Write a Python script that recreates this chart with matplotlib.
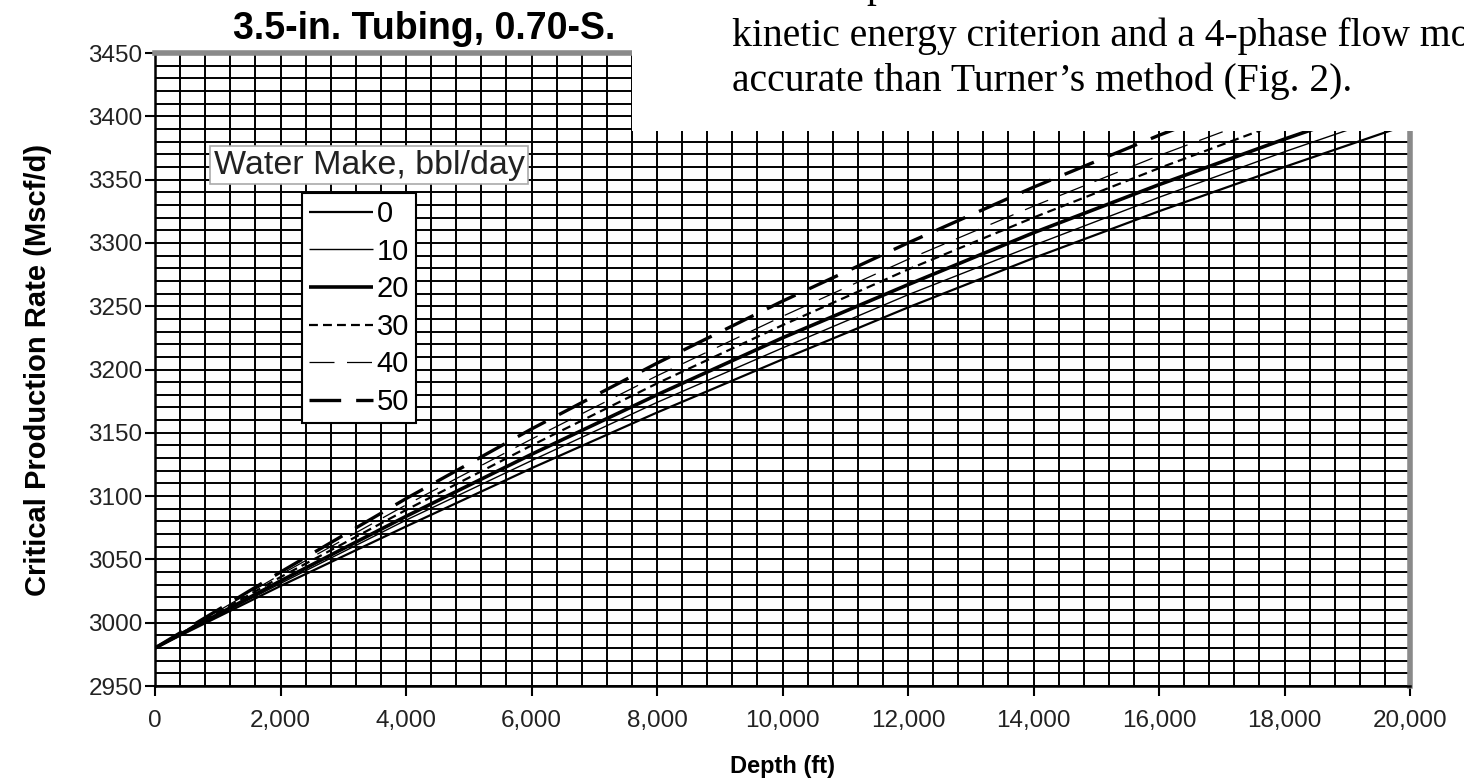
import matplotlib
matplotlib.use('Agg')
import matplotlib.pyplot as plt
import matplotlib.ticker as mticker
from matplotlib.patches import Rectangle

# depth (ft) and critical production rate (Mscf/d) for each water make
depth = [0, 2000, 4000, 6000, 8000, 10000, 12000, 14000, 16000, 18000, 20000]
rate_0 = [2980, 3029, 3076, 3122, 3166, 3208, 3249, 3288, 3325, 3360, 3394]
rate_10 = [2980, 3031, 3081, 3128, 3174, 3217, 3259, 3298, 3336, 3372, 3406]
rate_20 = [2980, 3033, 3084, 3133, 3180, 3225, 3267, 3308, 3346, 3382, 3416]
rate_30 = [2980, 3036, 3089, 3140, 3189, 3235, 3279, 3320, 3359, 3396, 3430]
rate_40 = [2980, 3038, 3093, 3145, 3195, 3242, 3287, 3329, 3369, 3406, 3440]
rate_50 = [2980, 3040, 3098, 3153, 3205, 3254, 3300, 3344, 3385, 3423, 3458]
water_make = ['0', '10', '20', '30', '40', '50']

title = '3.5-in. Tubing, 0.70-S.'
text_lines = ['kinetic energy criterion and a 4-phase flow mo',
              'accurate than Turner\u2019s method (Fig. 2).']

plt.rcParams['font.family'] = ['Liberation Sans', 'DejaVu Sans']

fig = plt.figure(figsize=(14.64, 7.8), dpi=100)
W, H = 1464, 780
ax = fig.add_axes([155 / W, 94 / H, 1255 / W, 633 / H])

styles = [
    dict(lw=1.6, ls='-'),
    dict(lw=1.0, ls='-'),
    dict(lw=2.6, ls='-'),
    dict(lw=1.6, ls=(0, (4, 2.3))),
    dict(lw=0.9, ls=(0, (20, 10))),
    dict(lw=2.4, ls=(0, (9.5, 4.5))),
]
series = [rate_0, rate_10, rate_20, rate_30, rate_40, rate_50]
handles = []
for vals, st, lab in zip(series, styles, water_make):
    h, = ax.plot(depth, vals, color='black', solid_capstyle='butt',
                 dash_capstyle='butt', label=lab, zorder=3, **st)
    handles.append(h)

ax.set_xlim(0, 20000)
ax.set_ylim(2950, 3450)
ax.xaxis.set_major_locator(mticker.MultipleLocator(2000))
ax.xaxis.set_minor_locator(mticker.MultipleLocator(400))
ax.yaxis.set_major_locator(mticker.MultipleLocator(50))
ax.yaxis.set_minor_locator(mticker.MultipleLocator(10))
ax.xaxis.set_major_formatter(mticker.StrMethodFormatter('{x:,.0f}'))
ax.grid(which='both', color='black', lw=1.4)
ax.set_axisbelow(True)
ax.tick_params(which='major', direction='out', length=7, width=1.5,
               labelsize=17.5, colors='black', labelcolor='#222222', pad=2)
ax.tick_params(axis='x', which='major', pad=10)
ax.tick_params(which='minor', length=0)

for s in ['left', 'bottom']:
    ax.spines[s].set_color('black')
    ax.spines[s].set_linewidth(1.8)
for s in ['top', 'right']:
    ax.spines[s].set_color('#8a8a8a')
    ax.spines[s].set_linewidth(4)

ax.set_xlabel('Depth (ft)', fontsize=17, fontweight='bold', labelpad=17)
ax.set_ylabel('Critical Production Rate (Mscf/d)', fontsize=21,
              fontweight='bold', labelpad=26)

leg = ax.legend(handles=handles, loc='upper left', bbox_to_anchor=(0.117, 0.779),
                borderaxespad=0, fontsize=21, handlelength=2.2, handletextpad=0.12,
                labelspacing=0.33, borderpad=0.24, frameon=True, fancybox=False,
                framealpha=1, edgecolor='black')
leg.get_frame().set_linewidth(1.5)

ax.text(0.1705, 0.823, 'Water Make, bbl/day', transform=ax.transAxes,
        ha='center', va='center', fontsize=24.5, color='#222222', zorder=5,
        bbox=dict(boxstyle='square,pad=0.1', fc='white', ec='#aaaaaa', lw=1.2))

fig.text(233 / W, 1 - 39 / H, title, fontsize=27, fontweight='bold',
         ha='left', va='baseline', zorder=0.5)

# scanned page text overlapping the chart
fig.add_artist(Rectangle((632 / W, 1 - 131 / H), 1, 131 / H,
                         transform=fig.transFigure, fc='white', ec='none', zorder=1))
fig.text(866 / W, 1 + 3 / H, 'p', family='Liberation Serif', fontsize=28.5,
         ha='left', va='baseline', zorder=2)
for i, line in enumerate(text_lines):
    fig.text(732 / W, 1 - (46 + 45 * i) / H, line, family='Liberation Serif',
             fontsize=28.5, ha='left', va='baseline', zorder=2)

fig.savefig('out.png', dpi=100)
